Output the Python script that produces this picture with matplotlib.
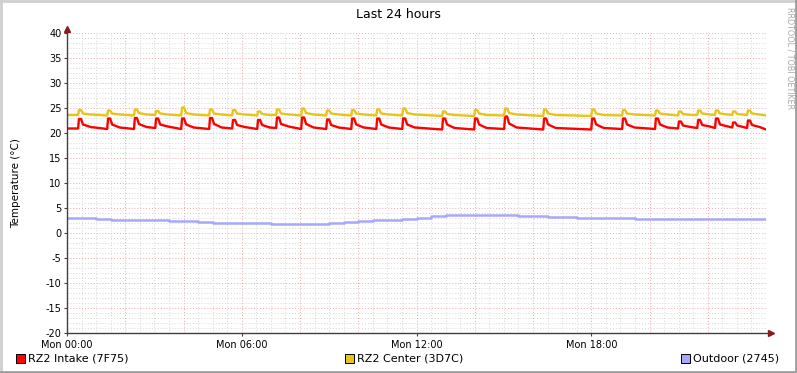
import matplotlib
matplotlib.use('Agg')
import matplotlib.pyplot as plt
from matplotlib.patches import Rectangle
from matplotlib.lines import Line2D
import numpy as np

# spike times (hours since Mon 00:00)
spike_t = [0.41, 1.41, 2.33, 3.06, 3.95, 4.91, 5.70, 6.56, 7.21, 8.07, 8.93, 9.79, 10.65,
           11.54, 12.91, 14.01, 15.04, 16.38, 18.03, 19.09, 20.22, 21.01, 21.67, 22.28,
           22.87, 23.38]

# RZ2 Intake
red_start = 20.9
red_end = 20.7
red_base = [20.9, 20.8, 20.8, 21.0, 20.8, 20.8, 20.9, 20.8, 21.0, 20.8, 20.8, 20.8, 20.8,
            20.8, 20.7, 20.7, 20.8, 20.7, 20.7, 20.8, 20.8, 20.9, 21.0, 21.0, 21.1, 21.0]
red_peak = [22.8, 22.9, 23.0, 22.9, 22.9, 23.0, 22.6, 22.6, 23.1, 23.1, 22.7, 22.9, 22.9,
            22.9, 22.9, 22.9, 23.3, 22.9, 22.9, 22.9, 22.9, 22.3, 22.6, 22.9, 22.1, 22.5]
red_shelf = [21.7, 21.7, 21.8, 21.7, 21.7, 21.8, 21.6, 21.6, 21.8, 21.8, 21.6, 21.7, 21.7,
             21.7, 21.7, 21.7, 21.9, 21.7, 21.7, 21.7, 21.7, 21.5, 21.6, 21.7, 21.5, 21.6]
red_knee = [21.2, 21.1, 21.2, 21.3, 21.1, 21.1, 21.2, 21.1, 21.3, 21.1, 21.1, 21.1, 21.1,
            21.1, 21.0, 21.0, 21.1, 21.0, 21.0, 21.1, 21.1, 21.2, 21.3, 21.3, 21.3, 21.2]

# RZ2 Center
yel_start = 23.6
yel_end = 23.5
yel_base = [23.6, 23.5, 23.5, 23.6, 23.5, 23.5, 23.5, 23.5, 23.6, 23.5, 23.5, 23.5, 23.5,
            23.5, 23.4, 23.4, 23.5, 23.4, 23.4, 23.5, 23.5, 23.5, 23.6, 23.6, 23.6, 23.6]
yel_peak = [24.6, 24.5, 24.7, 24.4, 25.1, 24.7, 24.6, 24.3, 24.7, 24.9, 24.5, 24.6, 24.7,
            24.9, 24.3, 24.6, 24.9, 24.7, 24.7, 24.6, 24.5, 24.3, 24.5, 24.5, 24.3, 24.5]
yel_shelf = [23.9, 23.9, 24.0, 23.9, 24.0, 23.9, 23.9, 23.8, 23.9, 24.0, 23.9, 23.9, 23.9,
             24.0, 23.8, 23.9, 24.0, 23.9, 23.9, 23.9, 23.9, 23.8, 23.9, 23.9, 23.8, 23.9]
yel_knee = [23.7, 23.7, 23.7, 23.7, 23.7, 23.7, 23.7, 23.6, 23.7, 23.7, 23.7, 23.7, 23.7,
            23.7, 23.6, 23.6, 23.7, 23.6, 23.6, 23.7, 23.7, 23.6, 23.7, 23.7, 23.7, 23.7]

# Outdoor, every half hour
out_t = np.arange(0, 24.01, 0.5)
out_v = [3.05, 3.0, 2.75, 2.6, 2.65, 2.6, 2.6, 2.5, 2.4, 2.3, 2.1, 2.05, 2.0, 2.0, 1.9,
         1.85, 1.8, 1.85, 2.0, 2.2, 2.4, 2.55, 2.7, 2.9, 3.1, 3.5, 3.7, 3.65, 3.7, 3.65,
         3.6, 3.35, 3.35, 3.25, 3.15, 3.1, 3.05, 3.05, 3.0, 2.85, 2.9, 2.85, 2.9, 2.85,
         2.9, 2.9, 2.9, 2.85, 2.9]

x_labels = ['Mon 00:00', 'Mon 06:00', 'Mon 12:00', 'Mon 18:00']
legend_names = ['RZ2 Intake (7F75)', 'RZ2 Center (3D7C)', 'Outdoor (2745)']
colors = ['#FF0000', '#E8C41A', '#A8A8FA']


def build(start, end, base, peak, shelf, knee):
    tt = [0.0]
    vv = [start]
    for i, t in enumerate(spike_t):
        nxt = spike_t[i + 1] if i + 1 < len(spike_t) else 24.0
        tt += [t - 0.03, t, t + 0.07, t + 0.14]
        vv += [base[i], peak[i], peak[i], shelf[i]]
        if nxt - t > 0.6:
            tt.append(t + 0.4)
            vv.append(knee[i])
    tt.append(24.0)
    vv.append(end)
    return tt, vv


W, H = 797, 373
fig = plt.figure(figsize=(W / 100, H / 100), dpi=100)
fig.patch.set_facecolor('white')
ax = fig.add_axes([67 / W, 40 / H, 699 / W, 300 / H])
ax.set_facecolor('white')

red_t, red_v = build(red_start, red_end, red_base, red_peak, red_shelf, red_knee)
yel_t, yel_v = build(yel_start, yel_end, yel_base, yel_peak, yel_shelf, yel_knee)

ax.plot(out_t, out_v, color=colors[2], lw=1.8, drawstyle='steps-post', zorder=3)
ax.plot(red_t, red_v, color=colors[0], lw=1.7, zorder=4)
ax.plot(yel_t, yel_v, color=colors[1], lw=1.7, zorder=4)

ax.set_xlim(0, 24)
ax.set_ylim(-20, 40)

# grid: minor gray, major red
for y in range(-20, 41):
    c = '#EAA8A8' if y % 5 == 0 else '#D6D6D6'
    ax.axhline(y, color=c, lw=0.7, ls=(0, (1, 2)), zorder=1)
for x in np.arange(0, 24.01, 0.5):
    c = '#EAA8A8' if x % 2 == 0 else '#D6D6D6'
    ax.axvline(x, color=c, lw=0.7, ls=(0, (1, 2)), zorder=1)

for s in ax.spines.values():
    s.set_visible(False)

ax.set_yticks(range(-20, 41, 5))
ax.set_yticklabels([str(v) for v in range(-20, 41, 5)])
ax.set_xticks([0, 6, 12, 18])
ax.set_xticklabels(x_labels)
ax.tick_params(axis='both', labelsize=7, length=2, width=0.8, color='#404040', pad=3)
ax.tick_params(axis='y', pad=2)

ax.set_ylabel('Temperature (°C)', fontsize=7.5, labelpad=18)
fig.text(398 / W, 1 - 14 / H, 'Last 24 hours', ha='center', va='center', fontsize=9)

# axis lines with arrows
axc = '#404040'
fig.add_artist(Line2D([67 / W, 67 / W], [40 / H, (H - 28) / H], color=axc, lw=1))
fig.add_artist(Line2D([67 / W, 772 / W], [40 / H, 40 / H], color=axc, lw=1))
fig.add_artist(Line2D([67 / W], [(H - 29) / H], marker='^', color='#8B1A1A', ms=4, lw=0))
fig.add_artist(Line2D([771 / W], [40 / H], marker='>', color='#8B1A1A', ms=4, lw=0))

# legend
leg_x = [16, 345, 681]
for name, c, lx in zip(legend_names, colors, leg_x):
    fig.add_artist(Rectangle((lx / W, (H - 363) / H), 9 / W, 9 / H, facecolor=c,
                             edgecolor='black', lw=0.7))
    fig.text((lx + 12) / W, (H - 358.5) / H, name, ha='left', va='center', fontsize=8)

fig.text(790 / W, 1 - 7 / H, 'RRDTOOL / TOBI OETIKER', rotation=270, ha='center',
         va='top', fontsize=5.8, color='#A8A8A8')

# shaded border
fig.add_artist(Line2D([0.5 / W, 0.5 / W], [0, 1], color='#CFCFCF', lw=2))
fig.add_artist(Line2D([0, 1], [1 - 0.5 / H, 1 - 0.5 / H], color='#CFCFCF', lw=2))
fig.add_artist(Line2D([1 - 1 / W, 1 - 1 / W], [0, 1], color='#9E9E9E', lw=2))
fig.add_artist(Line2D([0, 1], [1 / H, 1 / H], color='#9E9E9E', lw=2))

fig.savefig('out.png', dpi=100)
